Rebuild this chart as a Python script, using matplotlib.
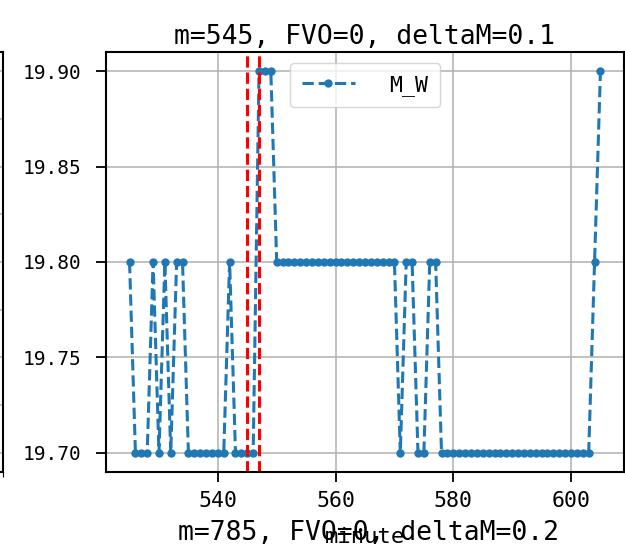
import numpy as np
import matplotlib
matplotlib.use("Agg")
import matplotlib.pyplot as plt

plt.rcParams['font.family'] = ['DejaVu Sans Mono', 'DejaVu Sans']
plt.rcParams['axes.unicode_minus'] = False

# one reading per minute, 525..605
minute = np.arange(525, 606)
M_W = [19.8, 19.7, 19.7, 19.7, 19.8, 19.7, 19.8, 19.7, 19.8, 19.8,   # 525-534
       19.7, 19.7, 19.7, 19.7, 19.7, 19.7, 19.7, 19.8, 19.7, 19.7,   # 535-544
       19.7, 19.7, 19.9, 19.9, 19.9, 19.8, 19.8, 19.8, 19.8, 19.8,   # 545-554
       19.8, 19.8, 19.8, 19.8, 19.8, 19.8, 19.8, 19.8, 19.8, 19.8,   # 555-564
       19.8, 19.8, 19.8, 19.8, 19.8, 19.8, 19.7, 19.8, 19.8, 19.7,   # 565-574
       19.7, 19.8, 19.8, 19.7, 19.7, 19.7, 19.7, 19.7, 19.7, 19.7,   # 575-584
       19.7, 19.7, 19.7, 19.7, 19.7, 19.7, 19.7, 19.7, 19.7, 19.7,   # 585-594
       19.7, 19.7, 19.7, 19.7, 19.7, 19.7, 19.7, 19.7, 19.7, 19.8,   # 595-604
       19.9]                                                         # 605
marks = [545, 547]
title = "m=545, FVO=0, deltaM=0.1"
next_title = "m=785, FVO=0, deltaM=0.2"

fig = plt.figure(figsize=(6.25, 5.53), dpi=100)
b, h = 1 - 472/553, (472 - 52)/553

# neighbouring subplot, mostly off the left edge
ax0 = fig.add_axes([-0.8, b, 0.8 + 3/625, h])
ax0.set_ylim(19.69, 19.91)
ax0.grid(True, lw=1.1)
ax0.tick_params(labelleft=False, labelbottom=False)

ax = fig.add_axes([106/625, b, (624 - 106)/625, h])
ax.plot(minute, M_W, '--', marker='.', ms=10, lw=2.2, color='C0', label='M_W')
for m in marks:
    ax.axvline(m, color='red', ls='--', lw=2.2)
ax.grid(True, lw=1.1)
ax.set_yticks([19.70, 19.75, 19.80, 19.85, 19.90])
ax.yaxis.set_major_formatter(matplotlib.ticker.FormatStrFormatter('%.2f'))
ax.set_xticks([540, 560, 580, 600])
ax.tick_params(labelsize=15.5, length=7, width=1.3)
ax.tick_params(axis='y', labelsize=14, pad=11)
ax.tick_params(axis='x', pad=7)
for s in list(ax.spines.values()) + list(ax0.spines.values()):
    s.set_linewidth(1.5)
ax.set_title(title, fontsize=19, pad=6)
ax.set_xlabel('minute', fontsize=16)
ax.xaxis.label.set_va('baseline')
ax.xaxis.set_label_coords(0.5, -(543 - 472)/420)
ax.legend(loc='upper center', fontsize=15.5, handlelength=2.45,
          handletextpad=1.6, borderaxespad=0.5, borderpad=0.55)

fig.text(368/625, 1 - 540/553, next_title, fontsize=19, ha='center', va='baseline')

fig.savefig('out.png', dpi=100)
